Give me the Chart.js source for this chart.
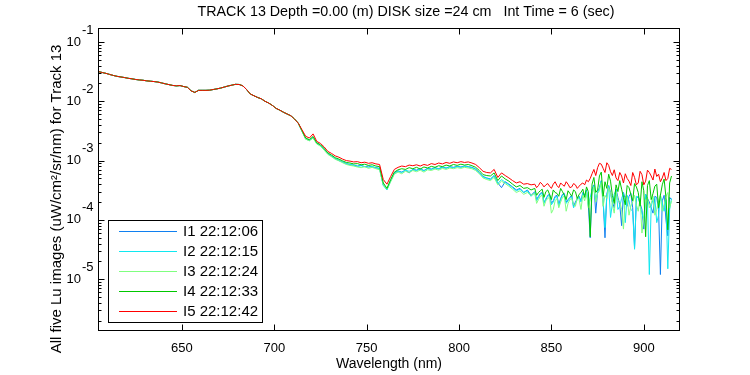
<!DOCTYPE html>
<html><head><meta charset="utf-8">
<script src="https://cdn.jsdelivr.net/npm/chart.js@4.4.1/dist/chart.umd.min.js"></script>
<style>html,body{margin:0;padding:0;background:#fff;overflow:hidden}</style>
</head><body>
<canvas id="c" width="750" height="375"></canvas>
<script>
// ---------- texts ----------
const chartTitle = 'TRACK 13 Depth =0.00 (m) DISK size =24 cm   Int Time = 6 (sec)';
const xAxisTitle = 'Wavelength (nm)';
const yAxisTitle = 'All five Lu images (uW/cm\u00b2/sr/nm) for Track 13';
const seriesNames = ['I1 22:12:06', 'I2 22:12:15', 'I3 22:12:24', 'I4 22:12:33', 'I5 22:12:42'];
const xTicks = [650, 700, 750, 800, 850, 900];
const yTickExponents = [-1, -2, -3, -4, -5];

// ---------- data ----------
const wavelengths = [
 605,607,609,611,613,615,617,619,621,623,625,627,629,631,633,635,637,639,641,643,
 645,647,649,651,653,655,657,659,661,663,665,667,669,671,673,675,677,679,681,683,
 685,687,689,691,693,695,697,699,701,703,705,707,709,711,713,715,717,719,721,723,
 725,727,729,731,733,735,737,739,741,743,745,747,749,751,753,755,757,759,761,763,
 765,767,769,771,773,775,777,779,781,783,785,787,789,791,793,795,797,799,801,803,
 805,807,809,811,813,815,817,819,821,823,825,827,829,831,833,835,837,839,
 841,842,843,844,845,846,847,848,849,850,851,852,853,854,855,856,857,858,859,860,
 861,862,863,864,865,866,867,868,869,870,871,872,873,874,875,876,877,878,879,880,
 881,882,883,884,885,886,887,888,889,890,891,892,893,894,895,896,897,898,899,900,
 901,902,903,904,905,906,907,908,909,910,911,912,913,914,915
];
// 605-713 nm: all five images coincide
const sharedHead = [
 3.16e-2,3.05e-2,2.95e-2,2.83e-2,2.72e-2,2.63e-2,2.57e-2,2.51e-2,2.44e-2,2.39e-2,
 2.33e-2,2.29e-2,2.26e-2,2.21e-2,2.18e-2,2.15e-2,2.11e-2,2.04e-2,1.97e-2,1.91e-2,
 1.85e-2,1.82e-2,1.84e-2,1.77e-2,1.72e-2,1.50e-2,1.41e-2,1.53e-2,1.53e-2,1.53e-2,
 1.54e-2,1.58e-2,1.62e-2,1.67e-2,1.74e-2,1.81e-2,1.87e-2,1.93e-2,1.92e-2,1.82e-2,
 1.58e-2,1.33e-2,1.24e-2,1.16e-2,1.10e-2,1.00e-2,9.33e-3,8.51e-3,7.59e-3,7.08e-3,
 6.53e-3,6.10e-3,5.69e-3,5.01e-3,4.27e-3
];
// 715-839 nm (2 nm steps)
const midI1 = [
 3.15e-3,2.3e-3,2.2e-3,2.45e-3,1.95e-3,1.8e-3,1.55e-3,1.3e-3,1.19e-3,1.08e-3,
 1.0e-3,9.5e-4,8.9e-4,8.5e-4,8.4e-4,8.1e-4,8.3e-4,7.9e-4,8.1e-4,7.8e-4,
 7.6e-4,7.4e-4,3.9e-4,3.3e-4,4.6e-4,6.2e-4,6.7e-4,6.4e-4,6.9e-4,6.2e-4,
 7.1e-4,6.9e-4,7.3e-4,6.8e-4,7.4e-4,7.2e-4,7.6e-4,7.3e-4,7.8e-4,7.5e-4,
 7.9e-4,7.7e-4,8.0e-4,7.8e-4,8.1e-4,7.9e-4,7.7e-4,7.2e-4,6.3e-4,5.4e-4,
 5.1e-4,4.9e-4,5.6e-4,4.2e-4,3.5e-4,4.4e-4,4.0e-4,3.6e-4,3.2e-4,3.4e-4,
 2.9e-4,3.2e-4,2.6e-4
];
const midI2 = [
 3.15e-3,2.35e-3,2.2e-3,2.45e-3,1.95e-3,1.8e-3,1.55e-3,1.3e-3,1.19e-3,1.08e-3,
 1.02e-3,9.4e-4,8.8e-4,8.6e-4,8.3e-4,8.0e-4,8.2e-4,7.9e-4,7.7e-4,8.0e-4,
 7.5e-4,7.3e-4,3.8e-4,3.2e-4,4.5e-4,6.1e-4,6.6e-4,6.3e-4,6.9e-4,6.6e-4,
 7.0e-4,6.8e-4,7.2e-4,6.7e-4,7.3e-4,7.1e-4,7.5e-4,7.2e-4,7.7e-4,7.4e-4,
 7.8e-4,7.6e-4,7.9e-4,7.7e-4,8.0e-4,7.8e-4,7.6e-4,7.1e-4,6.2e-4,5.3e-4,
 5.0e-4,4.8e-4,5.5e-4,4.1e-4,4.8e-4,4.3e-4,3.9e-4,3.5e-4,3.1e-4,3.3e-4,
 2.9e-4,3.1e-4,2.5e-4
];
const midI3 = [
 3.1e-3,2.3e-3,2.15e-3,2.4e-3,1.9e-3,1.75e-3,1.5e-3,1.27e-3,1.16e-3,1.05e-3,
 9.9e-4,9.2e-4,8.6e-4,8.3e-4,8.1e-4,7.8e-4,7.6e-4,7.9e-4,7.4e-4,7.7e-4,
 7.3e-4,7.0e-4,3.9e-4,3.3e-4,4.4e-4,5.9e-4,6.4e-4,6.0e-4,6.6e-4,6.3e-4,
 6.8e-4,6.5e-4,6.9e-4,6.4e-4,7.0e-4,6.8e-4,7.2e-4,6.9e-4,7.4e-4,7.1e-4,
 7.5e-4,7.3e-4,7.6e-4,7.4e-4,7.7e-4,7.5e-4,7.3e-4,6.8e-4,6.0e-4,5.1e-4,
 4.8e-4,4.6e-4,5.2e-4,3.9e-4,4.5e-4,4.1e-4,3.7e-4,3.3e-4,2.9e-4,3.1e-4,
 2.7e-4,2.9e-4,2.6e-4
];
const midI4 = [
 3.2e-3,2.4e-3,2.25e-3,2.55e-3,2.0e-3,1.85e-3,1.6e-3,1.35e-3,1.24e-3,1.12e-3,
 1.06e-3,9.9e-4,9.3e-4,9.1e-4,8.8e-4,8.9e-4,8.5e-4,8.7e-4,8.3e-4,8.5e-4,
 8.1e-4,7.9e-4,4.2e-4,3.4e-4,4.8e-4,6.4e-4,7.0e-4,7.3e-4,7.1e-4,7.6e-4,
 7.3e-4,7.7e-4,7.2e-4,7.8e-4,7.5e-4,8.0e-4,7.7e-4,8.2e-4,7.9e-4,8.4e-4,
 8.1e-4,8.6e-4,8.3e-4,8.7e-4,8.4e-4,8.6e-4,8.2e-4,7.7e-4,6.8e-4,5.8e-4,
 5.6e-4,5.5e-4,6.2e-4,4.6e-4,5.5e-4,4.9e-4,4.5e-4,4.0e-4,3.6e-4,3.8e-4,
 3.4e-4,3.5e-4,3.2e-4
];
const midI5 = [
 3.31e-3,2.57e-3,2.40e-3,2.82e-3,2.11e-3,1.95e-3,1.70e-3,1.43e-3,1.32e-3,1.20e-3,
 1.14e-3,1.06e-3,1.00e-3,9.8e-4,9.5e-4,9.6e-4,9.2e-4,9.4e-4,9.0e-4,9.2e-4,
 8.8e-4,8.6e-4,4.8e-4,4.0e-4,5.4e-4,7.1e-4,7.7e-4,8.1e-4,7.9e-4,8.4e-4,
 8.2e-4,8.5e-4,8.1e-4,8.6e-4,8.3e-4,8.9e-4,8.6e-4,9.1e-4,8.8e-4,9.3e-4,
 9.0e-4,9.5e-4,9.2e-4,9.6e-4,9.3e-4,9.5e-4,9.1e-4,8.6e-4,7.6e-4,6.6e-4,
 6.3e-4,6.2e-4,7.1e-4,5.2e-4,6.2e-4,5.6e-4,5.1e-4,4.6e-4,4.2e-4,4.4e-4,
 4.0e-4,4.1e-4,3.9e-4
];
// 841-915 nm (1 nm steps, noisy end of the spectrum)
const noisyI1 = [
 3.0e-4,2.2e-4,2.5e-4,2.8e-4,2.9e-4,2.0e-4,2.2e-4,2.6e-4,2.7e-4,1.9e-4,
 2.1e-4,2.5e-4,2.6e-4,1.8e-4,2.3e-4,2.7e-4,2.8e-4,2.0e-4,2.2e-4,2.4e-4,
 2.6e-4,1.7e-4,2.0e-4,2.3e-4,2.5e-4,2.1e-4,2.9e-4,2.6e-4,3.2e-4,1.8e-4,
 5.0e-5,3.3e-4,3.9e-4,1.3e-4,3.0e-4,3.5e-4,4.6e-4,2.1e-4,5.0e-5,2.7e-4,
 3.8e-4,2.9e-4,2.0e-4,1.6e-4,3.3e-4,2.4e-4,1.8e-4,8.0e-5,2.9e-4,2.2e-4,
 1.7e-4,2.5e-4,2.8e-4,1.6e-4,3.4e-5,2.3e-4,2.5e-4,1.9e-4,1.5e-4,7.0e-5,
 2.7e-4,2.3e-4,2.0e-4,1.6e-4,1.3e-4,2.5e-4,2.4e-4,1.5e-4,1.2e-5,2.1e-4,
 2.6e-4,1.0e-4,5.4e-5,2.4e-4,2.2e-4
];
const noisyI2 = [
 2.9e-4,2.1e-4,2.4e-4,2.7e-4,2.8e-4,1.9e-4,2.3e-4,2.5e-4,2.6e-4,1.8e-4,
 2.0e-4,2.4e-4,2.5e-4,1.7e-4,2.2e-4,2.6e-4,2.7e-4,1.9e-4,2.1e-4,2.3e-4,
 2.5e-4,1.6e-4,1.9e-4,2.2e-4,2.4e-4,2.0e-4,2.8e-4,2.5e-4,3.1e-4,1.7e-4,
 2.4e-4,3.2e-4,3.8e-4,2.2e-4,2.9e-4,3.4e-4,4.5e-4,2.0e-4,7.4e-5,2.6e-4,
 3.7e-4,1.1e-4,1.9e-4,2.7e-4,3.2e-4,1.5e-4,1.7e-4,2.3e-4,2.8e-4,9.0e-5,
 2.6e-4,2.1e-4,1.5e-4,1.4e-4,3.2e-5,2.5e-4,2.4e-4,1.8e-4,1.3e-4,1.0e-4,
 2.7e-4,2.1e-4,1.2e-5,1.7e-4,2.2e-4,2.4e-4,9.0e-5,1.2e-4,2.6e-4,1.9e-4,
 1.4e-4,2.2e-4,1.5e-5,1.5e-4,2.3e-4
];
const noisyI3 = [
 2.8e-4,1.9e-4,2.2e-4,2.5e-4,2.6e-4,1.7e-4,2.1e-4,2.3e-4,2.4e-4,1.3e-4,
 1.5e-4,2.1e-4,2.3e-4,1.6e-4,2.0e-4,2.4e-4,2.5e-4,1.4e-4,1.9e-4,2.2e-4,
 2.3e-4,1.8e-4,1.7e-4,2.4e-4,2.2e-4,1.5e-4,2.6e-4,2.1e-4,2.9e-4,1.6e-4,
 2.2e-4,2.7e-4,3.6e-4,2.0e-4,2.8e-4,3.1e-4,4.3e-4,1.7e-4,2.6e-4,2.3e-4,
 3.5e-4,2.8e-4,1.8e-4,1.3e-4,3.0e-4,2.2e-4,2.0e-4,1.5e-4,7.0e-5,2.5e-4,
 2.4e-4,1.2e-4,1.7e-4,2.0e-4,2.6e-4,1.8e-4,1.4e-4,2.3e-4,6.0e-5,1.1e-4,
 2.2e-4,2.4e-4,1.6e-4,1.9e-4,2.5e-4,1.2e-4,1.5e-4,2.1e-4,2.7e-4,1.4e-4,
 1.8e-4,2.5e-4,2.9e-4,1.6e-4,2.1e-4
];
const noisyI4 = [
 3.4e-4,2.6e-4,2.9e-4,3.1e-4,3.3e-4,2.4e-4,3.0e-4,3.2e-4,2.7e-4,2.2e-4,
 3.2e-4,2.9e-4,2.8e-4,2.5e-4,3.4e-4,3.0e-4,2.6e-4,2.2e-4,3.1e-4,2.8e-4,
 2.5e-4,3.2e-4,3.0e-4,2.3e-4,2.7e-4,2.9e-4,3.3e-4,2.4e-4,3.6e-4,3.0e-4,
 5.2e-5,4.0e-4,5.2e-4,2.9e-4,3.2e-4,5.5e-4,6.4e-4,2.5e-4,4.4e-4,3.4e-4,
 5.9e-4,4.5e-4,2.6e-4,1.9e-4,3.9e-4,3.0e-4,4.6e-4,3.3e-4,2.4e-4,1.8e-4,
 3.8e-4,3.5e-4,2.7e-4,2.1e-4,4.1e-4,3.6e-4,2.9e-4,1.7e-4,4.4e-4,3.1e-4,
 5.2e-5,3.8e-4,4.6e-4,2.2e-4,2.8e-4,3.7e-4,4.0e-4,1.6e-4,2.6e-4,3.9e-4,
 4.9e-4,2.4e-4,6.8e-5,4.2e-4,5.5e-4
];
const noisyI5 = [
 4.0e-4,3.5e-4,3.8e-4,4.3e-4,4.0e-4,3.6e-4,3.9e-4,4.1e-4,3.7e-4,3.4e-4,
 4.0e-4,4.4e-4,3.8e-4,3.5e-4,4.2e-4,3.9e-4,3.7e-4,4.4e-4,4.0e-4,3.5e-4,
 3.6e-4,4.1e-4,3.9e-4,3.4e-4,3.7e-4,4.0e-4,4.2e-4,3.9e-4,4.7e-4,4.4e-4,
 5.0e-4,6.0e-4,7.1e-4,5.6e-4,7.6e-4,9.0e-4,8.7e-4,7.4e-4,6.3e-4,9.2e-4,
 8.3e-4,6.5e-4,5.6e-4,7.0e-4,5.1e-4,4.6e-4,6.3e-4,5.5e-4,4.2e-4,6.0e-4,
 5.0e-4,4.5e-4,3.8e-4,6.3e-4,5.2e-4,3.9e-4,4.2e-4,6.6e-4,5.8e-4,3.9e-4,
 4.5e-4,6.9e-4,6.3e-4,5.5e-4,4.7e-4,7.2e-4,5.4e-4,5.9e-4,4.4e-4,5.1e-4,
 6.3e-4,4.6e-4,5.0e-4,7.4e-4,7.1e-4
];
const seriesValues = [
  sharedHead.concat(midI1, noisyI1),
  sharedHead.concat(midI2, noisyI2),
  sharedHead.concat(midI3, noisyI3),
  sharedHead.concat(midI4, noisyI4),
  sharedHead.concat(midI5, noisyI5)
];

// ---------- style ----------
const seriesColors = ['#1080f0', '#10e8f0', '#80ff80', '#00c800', '#ff0000'];
const FONT = '"Liberation Sans", Arial, Helvetica, sans-serif';

const matlabAxes = {
  id: 'matlabAxes',
  beforeDraw(chart) {
    const c = chart.ctx; c.save(); c.fillStyle = '#fff'; c.fillRect(0, 0, chart.width, chart.height); c.restore();
  },
  afterDraw(chart) {
    const ctx = chart.ctx, a = chart.chartArea, xs = chart.scales.x, ys = chart.scales.y;
    ctx.save();
    ctx.strokeStyle = '#000'; ctx.lineWidth = 1; ctx.fillStyle = '#000';
    const L = Math.round(a.left) + 0.5, R = Math.round(a.right) - 0.5;
    const T = Math.round(a.top) + 0.5, B = Math.round(a.bottom) - 0.5;
    ctx.strokeRect(L, T, R - L, B - T);
    ctx.beginPath();
    xTicks.forEach(v => {
      const px = Math.round(xs.getPixelForValue(v)) + 0.5;
      ctx.moveTo(px, B); ctx.lineTo(px, B - 6);
      ctx.moveTo(px, T); ctx.lineTo(px, T + 6);
    });
    for (let e = -7; e <= 0; e++) {
      for (let m = 1; m <= 9; m++) {
        const v = m * Math.pow(10, e);
        if (v < ys.min || v > ys.max) continue;
        const py = Math.round(ys.getPixelForValue(v)) + 0.5;
        const len = m === 1 ? 6 : 3;
        ctx.moveTo(L, py); ctx.lineTo(L + len, py);
        ctx.moveTo(R, py); ctx.lineTo(R - len, py);
      }
    }
    ctx.stroke();

    // x tick labels
    ctx.font = '13px ' + FONT;
    ctx.textAlign = 'center'; ctx.textBaseline = 'middle';
    xTicks.forEach(v => ctx.fillText(String(v), xs.getPixelForValue(v), 348));
    // y tick labels 10^e
    yTickExponents.forEach(e => {
      const py = ys.getPixelForValue(Math.pow(10, e));
      ctx.textAlign = 'right'; ctx.textBaseline = 'middle';
      ctx.fillText('10', 81, py);
      ctx.textAlign = 'left';
      ctx.fillText(String(e), 82, py - 12);
    });
    // axis titles
    ctx.font = '14px ' + FONT;
    ctx.textAlign = 'center'; ctx.textBaseline = 'middle';
    ctx.fillText(xAxisTitle, (a.left + a.right) / 2, 364);
    ctx.font = '14.3px ' + FONT;
    ctx.fillText(chartTitle, 406, 12);
    ctx.save();
    ctx.font = '15px ' + FONT;
    ctx.translate(57, 199); ctx.rotate(-Math.PI / 2);
    ctx.fillText(yAxisTitle, 0, 0);
    ctx.restore();

    // legend
    const lx = 108.5, ly = 220.5, lw = 154, lh = 102;
    ctx.fillStyle = '#fff'; ctx.fillRect(lx, ly, lw, lh);
    ctx.strokeStyle = '#000'; ctx.strokeRect(lx, ly, lw, lh);
    ctx.font = '15px ' + FONT; ctx.textAlign = 'left'; ctx.textBaseline = 'middle';
    seriesNames.forEach((name, k) => {
      const y = Math.round(231 + k * 20) + 0.5;
      ctx.strokeStyle = seriesColors[k]; ctx.lineWidth = 1;
      ctx.beginPath(); ctx.moveTo(119, y); ctx.lineTo(177, y); ctx.stroke();
      ctx.fillStyle = '#000'; ctx.fillText(name, 183, y);
    });
    ctx.restore();
  }
};

new Chart(document.getElementById('c'), {
  type: 'line',
  data: {
    datasets: seriesValues.map((vals, k) => ({
      label: seriesNames[k],
      data: wavelengths.map((w, i) => ({ x: w, y: vals[i] })),
      borderColor: seriesColors[k],
      borderWidth: 1,
      pointRadius: 0,
      tension: 0,
      fill: false,
      order: 5 - k
    }))
  },
  options: {
    responsive: false,
    animation: false,
    devicePixelRatio: 1,
    layout: { padding: { left: 98, top: 28, right: 70, bottom: 44 } },
    plugins: { legend: { display: false }, tooltip: { enabled: false }, title: { display: false } },
    scales: {
      x: { type: 'linear', min: 604.6, max: 919.6, display: false, bounds: 'data' },
      y: { type: 'logarithmic', min: 1.34e-6, max: 0.172, display: false, bounds: 'data' }
    }
  },
  plugins: [matlabAxes]
});
</script>
</body></html>
